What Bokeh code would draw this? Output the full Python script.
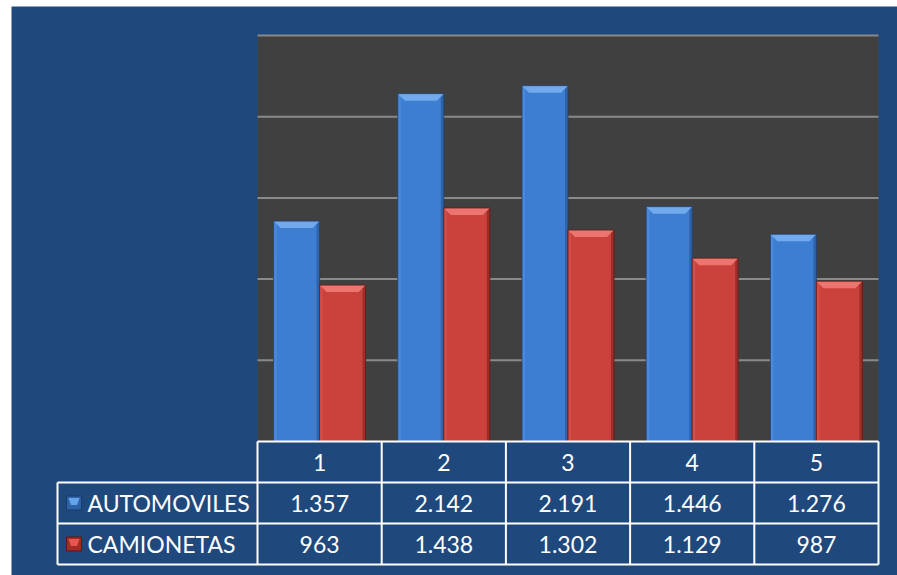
from bokeh.plotting import figure
from bokeh.models import Range1d
from bokeh.core.properties import value
from bokeh.embed import file_html
from bokeh.resources import INLINE

# ---------------- data ----------------
categories = ["1", "2", "3", "4", "5"]
series_names = ["AUTOMOVILES", "CAMIONETAS"]
automoviles = [1357, 2142, 2191, 1446, 1276]
camionetas = [963, 1438, 1302, 1129, 987]
automoviles_labels = ["1.357", "2.142", "2.191", "1.446", "1.276"]
camionetas_labels = ["963", "1.438", "1.302", "1.129", "987"]
y_ticks = [0, 500, 1000, 1500, 2000, 2500]

# ---------------- layout (pixels) ----------------
W, H = 897, 575
FRAME_L, FRAME_T = 11, 6
PLOT_L, PLOT_R, PLOT_T, PLOT_B = 257, 878, 35, 441
ROW_H = 41
TABLE_L = 57
FONT = "Lato"

n = len(categories)
ymax = y_ticks[-1]
xpp = n / (PLOT_R - PLOT_L)
ypp = ymax / (PLOT_B - PLOT_T)
x_start = 0.5 - (PLOT_L - FRAME_L) * xpp
x_end = n + 0.5 + (W - PLOT_R) * xpp
y_end = ymax + (PLOT_T - FRAME_T) * ypp
y_start = -(H - PLOT_B) * ypp


def px_x(px):
    return 0.5 + (px - PLOT_L) * xpp


def px_y(py):
    return (PLOT_B - py) * ypp


p = figure(width=W, height=H,
           x_range=Range1d(x_start, x_end), y_range=Range1d(y_start, y_end),
           min_border_left=FRAME_L, min_border_top=FRAME_T,
           min_border_right=0, min_border_bottom=0,
           x_axis_location=None, y_axis_location=None,
           toolbar_location=None, output_backend="svg",
           background_fill_color="#1F497D", border_fill_color="white",
           outline_line_color=None)
p.xgrid.visible = False
p.ygrid.visible = False

# plot area
p.quad(left=[0.5], right=[n + 0.5], bottom=[0], top=[ymax],
       fill_color="#404040", line_color=None)

# gridlines
grid_vals = [t for t in y_ticks if t > 0]
p.segment(x0=[0.5] * len(grid_vals), x1=[n + 0.5] * len(grid_vals),
          y0=grid_vals, y1=grid_vals, line_color="#8A8A8A", line_width=2)

# bars with bevel look
bar_w = 46 * xpp
bev_x = 7 * xpp
bev_y = 7 * ypp
side = 3 * xpp
xs = [i + 1 for i in range(n)]

styles = [
    (automoviles, -bar_w / 2, "#3D7DD2", "#72AAEE", "#4A8ADB", "#2D64AA", "#1E3F6E"),
    (camionetas, bar_w / 2, "#CB423D", "#EC766F", "#D44E48", "#9C2E2A", "#5E1A17"),
]
for vals, off, main, top_c, light_c, dark_c, edge in styles:
    cx = [x + off for x in xs]
    p.vbar(x=cx, width=bar_w, top=vals, bottom=0, fill_color=main, line_color=None)
    # left light strip / right dark strip
    p.quad(left=[c - bar_w / 2 for c in cx], right=[c - bar_w / 2 + side for c in cx],
           bottom=[0] * n, top=vals, fill_color=light_c, line_color=None)
    p.quad(left=[c + bar_w / 2 - side for c in cx], right=[c + bar_w / 2 for c in cx],
           bottom=[0] * n, top=vals, fill_color=dark_c, line_color=None)
    # top bevel
    pxs = [[c - bar_w / 2, c + bar_w / 2, c + bar_w / 2 - bev_x, c - bar_w / 2 + bev_x] for c in cx]
    pys = [[v, v, v - bev_y, v - bev_y] for v in vals]
    p.patches(xs=pxs, ys=pys, fill_color=top_c, line_color=None)
    p.vbar(x=cx, width=bar_w, top=vals, bottom=0, fill_color=None,
           line_color=edge, line_width=1, line_alpha=0.8)

# ---------------- data table ----------------
y_top = px_y(PLOT_B)
y_r1 = px_y(PLOT_B + ROW_H)
y_r2 = px_y(PLOT_B + 2 * ROW_H)
y_r3 = px_y(PLOT_B + 3 * ROW_H)
x_tl = px_x(TABLE_L)
x_rt = n + 0.5
col_edges = [i + 0.5 for i in range(n + 1)]

hx0 = [0.5, x_tl, x_tl, x_tl]
hx1 = [x_rt] * 4
hy = [y_top, y_r1, y_r2, y_r3]
p.segment(x0=hx0, x1=hx1, y0=hy, y1=hy, line_color="white", line_width=2)
p.segment(x0=col_edges, x1=col_edges, y0=[y_top] * len(col_edges),
          y1=[y_r3] * len(col_edges), line_color="white", line_width=2)
p.segment(x0=[x_tl], x1=[x_tl], y0=[y_r1], y1=[y_r3], line_color="white", line_width=2)

text_kw = dict(text_color="white", text_font=value(FONT), text_font_size="23px",
               text_baseline="middle")
row_c = [px_y(PLOT_B + ROW_H * (k + 0.5)) for k in range(3)]
p.text(x=xs, y=[row_c[0]] * n, text=categories, text_align="center", **text_kw)
p.text(x=xs, y=[row_c[1]] * n, text=automoviles_labels, text_align="center", **text_kw)
p.text(x=xs, y=[row_c[2]] * n, text=camionetas_labels, text_align="center", **text_kw)
p.text(x=[px_x(87)] * 2, y=row_c[1:], text=series_names, text_align="left", **text_kw)

# legend keys
mk_l, mk_r = px_x(66), px_x(81)
mk_h = 14 * ypp
key_styles = [("#2C62A8", "#63A3EA", "#1A3A66"), ("#A52B26", "#E8574F", "#5E1714")]
for (dark, light, edge), yc in zip(key_styles, row_c[1:]):
    p.quad(left=[mk_l], right=[mk_r], bottom=[yc - mk_h / 2], top=[yc + mk_h / 2],
           fill_color=dark, line_color=edge, line_width=1)
    mx = (mk_l + mk_r) / 2
    ins = 2 * xpp
    p.patches(xs=[[mk_l + ins, mk_r - ins, mx + 3 * xpp, mx - 3 * xpp]],
              ys=[[yc + mk_h / 2 - 2 * ypp, yc + mk_h / 2 - 2 * ypp, yc - mk_h * 0.15, yc - mk_h * 0.15]],
              fill_color=light, line_color=None)

open("out.html", "w").write(file_html(p, INLINE))
